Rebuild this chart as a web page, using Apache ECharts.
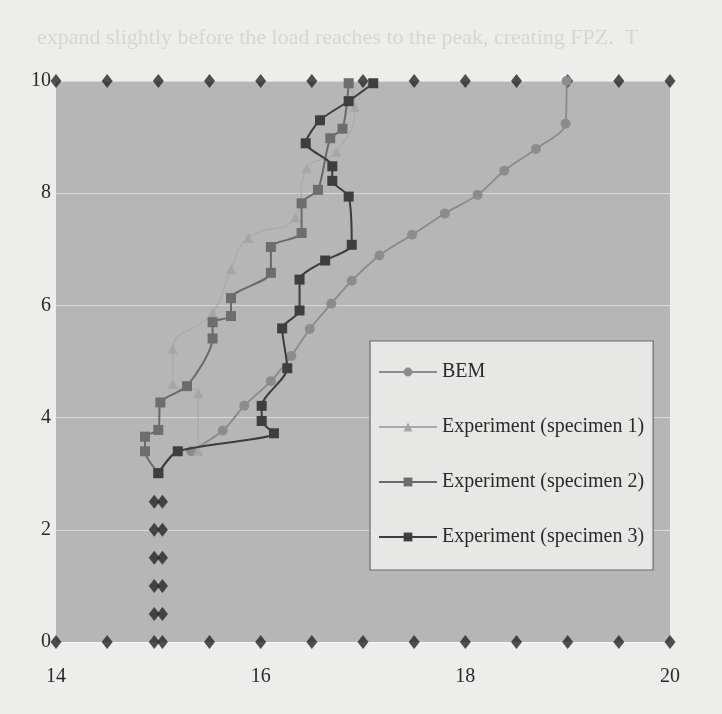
<!DOCTYPE html>
<html>
<head>
<meta charset="utf-8">
<script src="https://cdn.jsdelivr.net/npm/echarts@6/dist/echarts.min.js"></script>
<style>
html,body{margin:0;padding:0;background:#ededeb;}
#chart{width:722px;height:714px;}
</style>
</head>
<body>
<div id="chart"></div>
<script>
// ---- data ----
const xTicks = [14, 16, 18, 20];
const yTicks = [0, 2, 4, 6, 8, 10];

const bemX = [15.32, 15.63, 15.84, 16.10, 16.30, 16.48, 16.69, 16.89, 17.16, 17.48, 17.80, 18.12, 18.38, 18.69, 18.98, 18.99];
const bemY = [3.40, 3.77, 4.21, 4.65, 5.10, 5.58, 6.03, 6.44, 6.89, 7.26, 7.64, 7.97, 8.40, 8.79, 9.24, 10.0];

const spec1X = [15.39, 15.39, 15.14, 15.14, 15.53, 15.71, 15.88, 16.34, 16.45, 16.74, 16.92, 16.86];
const spec1Y = [3.41, 4.44, 4.60, 5.22, 5.87, 6.65, 7.20, 7.57, 8.44, 8.74, 9.54, 9.97];

const spec2X = [15.00, 14.87, 14.87, 15.00, 15.02, 15.28, 15.53, 15.53, 15.71, 15.71, 16.10, 16.10, 16.40, 16.40, 16.56, 16.68, 16.80, 16.86];
const spec2Y = [3.01, 3.40, 3.66, 3.78, 4.27, 4.56, 5.41, 5.70, 5.81, 6.13, 6.58, 7.04, 7.29, 7.82, 8.06, 8.98, 9.15, 9.96];

const spec3X = [15.00, 15.19, 16.13, 16.01, 16.01, 16.26, 16.21, 16.38, 16.38, 16.63, 16.89, 16.86, 16.70, 16.70, 16.44, 16.58, 16.86, 17.10];
const spec3Y = [3.01, 3.40, 3.72, 3.94, 4.21, 4.88, 5.59, 5.91, 6.46, 6.80, 7.08, 7.94, 8.22, 8.48, 8.89, 9.30, 9.64, 9.96];

const boundaryX = [14, 14.5, 15, 15.5, 16, 16.5, 17, 17.5, 18, 18.5, 19, 19.5, 20,
                   14, 14.5, 14.96, 15.04, 15.5, 16, 16.5, 17, 17.5, 18, 18.5, 19, 19.5, 20,
                   14.96, 15.04, 14.96, 15.04, 14.96, 15.04, 14.96, 15.04, 14.96, 15.04];
const boundaryY = [10, 10, 10, 10, 10, 10, 10, 10, 10, 10, 10, 10, 10,
                   0, 0, 0, 0, 0, 0, 0, 0, 0, 0, 0, 0, 0, 0,
                   0.5, 0.5, 1, 1, 1.5, 1.5, 2, 2, 2.5, 2.5];

const seriesNames = ['BEM', 'Experiment (specimen 1)', 'Experiment (specimen 2)', 'Experiment (specimen 3)'];
const bleedText = 'expand slightly before the load reaches to the peak, creating FPZ.  T';

function zip(xs, ys) { return xs.map((x, i) => [x, ys[i]]); }

const chart = echarts.init(document.getElementById('chart'), null, {renderer: 'canvas'});
const serif = 'Liberation Serif';

chart.setOption({
  backgroundColor: '#ededeb',
  animation: false,
  textStyle: {fontFamily: serif},
  graphic: [{
    type: 'text', left: 37, top: 27, z: 0,
    style: {text: bleedText, font: '22px "Liberation Serif"', fill: '#d6d6d4'}
  }],
  grid: {left: 56, right: 52, top: 81, bottom: 72, show: true, backgroundColor: '#b6b6b6', borderWidth: 0},
  xAxis: {
    type: 'value', min: 14, max: 20, interval: 2,
    axisLine: {show: false}, axisTick: {show: false}, splitLine: {show: false},
    axisLabel: {color: '#2a2a2a', fontSize: 20, fontFamily: serif, margin: 25,
      formatter: v => xTicks.includes(v) ? String(v) : ''}
  },
  yAxis: {
    type: 'value', min: 0, max: 10, interval: 2,
    axisLine: {show: false}, axisTick: {show: false},
    splitLine: {show: true, lineStyle: {color: 'rgba(255,255,255,0.45)', width: 1}},
    axisLabel: {color: '#2a2a2a', fontSize: 20, fontFamily: serif, margin: 5,
      formatter: v => yTicks.includes(v) ? String(v) : ''}
  },
  legend: {
    data: seriesNames,
    orient: 'vertical', left: 370, top: 341,
    itemWidth: 58, itemHeight: 11, itemGap: 35,
    padding: [21, 9, 23, 8],
    backgroundColor: '#e7e7e5', borderColor: '#6a6a6a', borderWidth: 1.2,
    textStyle: {fontFamily: serif, fontSize: 20, color: '#2a2a2a'}
  },
  series: [
    {
      name: 'boundary', type: 'scatter', data: zip(boundaryX, boundaryY),
      symbol: 'diamond', symbolSize: [11, 14], z: 1,
      itemStyle: {color: '#262626'}, silent: true
    },
    {
      name: seriesNames[0], type: 'line', data: zip(bemX, bemY), smooth: 0.3,
      symbol: 'circle', symbolSize: 10, z: 3,
      lineStyle: {color: '#8a8a8a', width: 1.8}, itemStyle: {color: '#8c8c8c'}
    },
    {
      name: seriesNames[1], type: 'line', data: zip(spec1X, spec1Y), smooth: 0.5,
      symbol: 'triangle', symbolSize: 10, z: 3,
      lineStyle: {color: '#aaaaaa', width: 1.3}, itemStyle: {color: '#a6a6a6'}
    },
    {
      name: seriesNames[2], type: 'line', data: zip(spec2X, spec2Y), smooth: 0.25,
      symbol: 'rect', symbolSize: 10, z: 4,
      lineStyle: {color: '#6a6a6a', width: 2}, itemStyle: {color: '#6d6d6d'}
    },
    {
      name: seriesNames[3], type: 'line', data: zip(spec3X, spec3Y), smooth: 0.25,
      symbol: 'rect', symbolSize: 10, z: 5,
      lineStyle: {color: '#3c3c3c', width: 2}, itemStyle: {color: '#3e3e3e'}
    }
  ]
});
</script>
</body>
</html>
